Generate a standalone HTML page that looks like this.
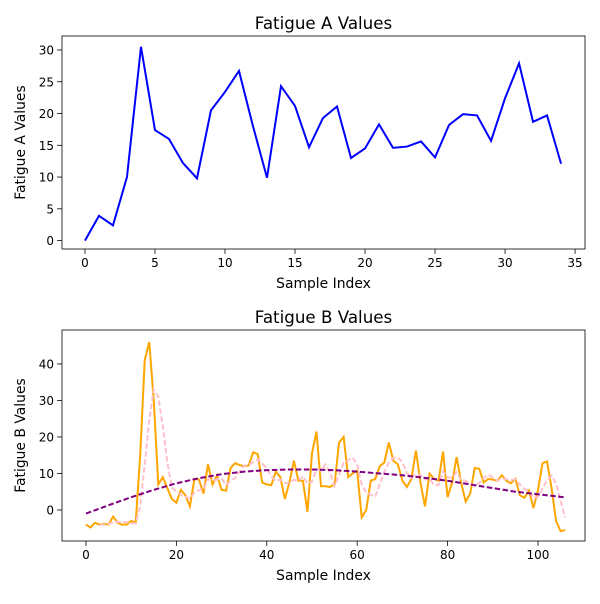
<!DOCTYPE html>
<html><head><meta charset="utf-8"><style>
body{margin:0;background:#fff;font-family:"DejaVu Sans","Liberation Sans",sans-serif}
svg text{font-family:"DejaVu Sans","Liberation Sans",sans-serif}
</style></head><body>
<svg id="s" width="600" height="600"></svg>
<script>
const topValues=[0,3.9,2.4,10,30.5,17.4,16,12.2,9.8,20.5,23.4,26.7,18,9.9,24.3,21.2,14.7,19.3,21.1,13,14.5,18.3,14.6,14.8,15.6,13.1,18.2,19.9,19.7,15.7,22.4,27.9,18.7,19.7,12.1];
const topXTicks=[0,5,10,15,20,25,30,35];
const topYTicks=[0,5,10,15,20,25,30];
const bottomValues=[-4,-4.8,-3.5,-4,-3.8,-4,-1.8,-3.5,-4,-4,-3,-3.5,15,41,46,30,7,9,6,3,2,5.5,4,1,8.5,8.3,4.5,12.5,7,9.5,5.5,5.3,11.5,12.8,12.3,12,12.2,15.8,15.3,7.5,7,6.8,10.5,9,3,7.5,13.5,8,8,-0.5,15.5,21.5,6.5,6.5,6.3,7,18.5,20,9,10,10.8,-2,0,8,8.5,12,13,18.5,13.5,12.5,8,6.3,8.5,16.3,7.5,1,10,8.5,8,16,3.5,7.5,14.5,7.5,2.3,4.5,11.5,11.3,7.5,8.5,8.3,8,9.5,8,7.3,8.5,4,3.3,5.3,0.5,5.5,12.8,13.3,6,-3,-5.8,-5.5];
const trendIdx=[0,5,10,15,20,25,30,35,40,45,50,55,60,65,70,75,80,85,90,95,100,105,106];
const trendValues=[-1,1.3,3.5,5.5,7.3,8.7,9.8,10.5,10.9,11.1,11.1,10.9,10.5,10,9.5,8.8,8,7,6,5,4.3,3.6,3.5];
const bottomXTicks=[0,20,40,60,80,100];
const bottomYTicks=[0,10,20,30,40];
const NS="http://www.w3.org/2000/svg";
const svg=document.getElementById('s');
function mk(t,a,p){const e=document.createElementNS(NS,t);for(const k in a)e.setAttribute(k,a[k]);(p||svg).appendChild(e);return e;}
function panel(cfg){
  const g=mk('g',{});
  
  
  const sx=v=>cfg.x0+(v-cfg.xmin)/(cfg.xmax-cfg.xmin)*(cfg.x1-cfg.x0);
  const sy=v=>cfg.y1-(v-cfg.ymin)/(cfg.ymax-cfg.ymin)*(cfg.y1-cfg.y0);
  cfg.series.forEach(s=>{
    let d='',started=false;
    s.vals.forEach((v,i)=>{if(v===null)return;const xi=s.xs?s.xs[i]:i;d+=(started?'L':'M')+sx(xi).toFixed(2)+','+sy(v).toFixed(2);started=true;});
    const p=mk('path',Object.assign({d:d,fill:'none',stroke:s.color,'stroke-width':2},s.dash?{'stroke-dasharray':s.dash}:{}),g);
    
    
  });
  const fr=mk('rect',{x:cfg.x0,y:cfg.y0,width:cfg.x1-cfg.x0,height:cfg.y1-cfg.y0,fill:'none',stroke:'#000','stroke-width':0.8},g);
  
  
  cfg.xt.forEach(t=>{const x=sx(t);mk('line',{x1:x,x2:x,y1:cfg.y1,y2:cfg.y1+4.9,stroke:'#000','stroke-width':0.8},g);
    const tx=mk('text',{x:x,y:cfg.y1+18,'text-anchor':'middle','font-size':12},g);tx.textContent=t;
    
    });
  cfg.yt.forEach(t=>{const y=sy(t);mk('line',{x1:cfg.x0,x2:cfg.x0-4.9,y1:y,y2:y,stroke:'#000','stroke-width':0.8},g);
    const tx=mk('text',{x:cfg.x0-8,y:y+4.5,'text-anchor':'end','font-size':12},g);tx.textContent=t;
    
    });
  const ti=mk('text',{x:(cfg.x0+cfg.x1)/2,y:cfg.y0-7,'text-anchor':'middle','font-size':16.7},g);ti.textContent=cfg.title;
  
  
  const xl=mk('text',{x:(cfg.x0+cfg.x1)/2,y:cfg.y1+39,'text-anchor':'middle','font-size':13.9},g);xl.textContent='Sample Index';
  
  
  const cy=(cfg.y0+cfg.y1)/2;
  const yl=mk('text',{x:25,y:cy,'text-anchor':'middle','font-size':13.9,transform:'rotate(-90 25 '+cy+')'},g);yl.textContent=cfg.ylabel;
  
  
}
// trailing rolling mean (window 4)
const rolling=bottomValues.map((v,i)=>{if(i<3)return null;let s=0;for(let j=i-3;j<=i;j++)s+=bottomValues[j];return s/4;});
panel({name:'fatigue-a-chart',x0:62,x1:585,y0:36,y1:249,xmin:-1.64,xmax:35.71,ymin:-1.32,ymax:32.2,
  xt:topXTicks,yt:topYTicks,title:'Fatigue A Values',ylabel:'Fatigue A Values',
  series:[{vals:topValues,color:'#0000ff',name:'fatigue-a-line'}]});
panel({name:'fatigue-b-chart',x0:62,x1:585,y0:330,y1:541,xmin:-5.3,xmax:110.4,ymin:-8.5,ymax:49.3,
  xt:bottomXTicks,yt:bottomYTicks,title:'Fatigue B Values',ylabel:'Fatigue B Values',
  series:[{vals:bottomValues,color:'#ffa500',name:'fatigue-b-line'},
          {vals:rolling,color:'#ffc0cb',dash:'5.5,2.5',name:'rolling-mean-line'},
          {vals:trendValues,xs:trendIdx,color:'#800080',dash:'5.5,2.5',name:'trend-line'}]});
</script>
</body></html>
